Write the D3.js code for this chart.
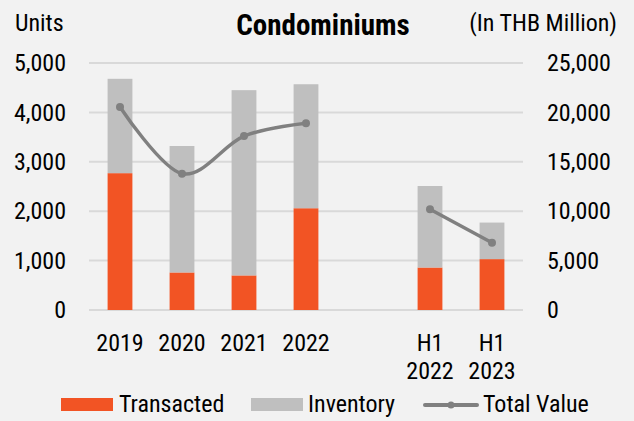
<!DOCTYPE html>
<html>
<head>
<meta charset="utf-8">
<script src="https://cdn.jsdelivr.net/npm/d3@7"></script>
<style>
    body { margin: 0; background: #f2f2f2; }
    svg text { font-family: "Liberation Sans Narrow", "Arial Narrow", "Roboto Condensed", Roboto, sans-serif; fill: #000; }
</style>
</head>
<body>
<div id="chart"></div>
<script>
// data (blank slot = gap between years and halves)
var categories = ["2019", "2020", "2021", "2022", "", "H1 2022", "H1 2023"];
var transacted = [2770, 760, 700, 2060, null, 860, 1030];
var inventory = [1910, 2560, 3750, 2510, null, 1650, 740];
var totalValue = [20550, 13800, 17600, 18900, null, 10200, 6800];
var leftTicks = [0, 1000, 2000, 3000, 4000, 5000];
var rightTicks = [0, 5000, 10000, 15000, 20000, 25000];

var width = 634,
    height = 421,
    margin = { top: 63, right: 111, bottom: 111, left: 89 },
    orange = "#f25424",
    grey = "#bfbfbf",
    lineColor = "#808080",
    fontSize = 24;

var svg = d3.select("#chart").append("svg")
    .attr("width", width)
    .attr("height", height);

svg.append("rect").attr("width", width).attr("height", height).attr("fill", "#f2f2f2");

var innerW = width - margin.left - margin.right,
    innerH = height - margin.top - margin.bottom;

var x = d3.scaleBand().domain(d3.range(categories.length)).range([0, innerW]).paddingInner(0.6).paddingOuter(0.3);
var yL = d3.scaleLinear().domain([0, 5000]).range([innerH, 0]);
var yR = d3.scaleLinear().domain([0, 25000]).range([innerH, 0]);

var g = svg.append("g").attr("transform", "translate(" + margin.left + "," + margin.top + ")");

// gridlines
g.append("g").attr("class", "grid")
    .selectAll("line").data(leftTicks).enter().append("line")
    .attr("x1", 0).attr("x2", innerW)
    .attr("y1", function(d) { return yL(d); })
    .attr("y2", function(d) { return yL(d); })
    .attr("stroke", "#d9d9d9").attr("stroke-width", 2);

// stacked bars
var rows = categories.map(function(c, i) {
    return { i: i, transacted: transacted[i] || 0, inventory: inventory[i] || 0 };
});
var series = d3.stack().keys(["transacted", "inventory"])(rows);
var colors = { transacted: orange, inventory: grey };

g.selectAll(".layer").data(series).enter().append("g")
    .attr("class", "layer")
    .attr("fill", function(d) { return colors[d.key]; })
    .selectAll("rect").data(function(d) { return d.filter(function(p) { return p[1] > p[0]; }); })
    .enter().append("rect")
    .attr("x", function(d) { return x(d.data.i); })
    .attr("width", x.bandwidth())
    .attr("y", function(d) { return yL(d[1]); })
    .attr("height", function(d) { return yL(d[0]) - yL(d[1]); });

// total value line, smoothed like the spreadsheet, broken at the blank slot
var cx = function(i) { return x(i) + x.bandwidth() / 2; };
var line = d3.line()
    .defined(function(d) { return d != null; })
    .x(function(d, i) { return cx(i); })
    .y(function(d) { return yR(d); })
    .curve(d3.curveCardinal.tension(0));

g.append("path").datum(totalValue)
    .attr("d", line)
    .attr("fill", "none")
    .attr("stroke", lineColor)
    .attr("stroke-width", 3.5)
    .attr("stroke-linecap", "round");

g.selectAll(".dot").data(totalValue.map(function(v, i) { return { v: v, i: i }; }).filter(function(d) { return d.v != null; }))
    .enter().append("circle")
    .attr("class", "dot")
    .attr("cx", function(d) { return cx(d.i); })
    .attr("cy", function(d) { return yR(d.v); })
    .attr("r", 4)
    .attr("fill", lineColor);

// axes (text only, spreadsheet style)
var fmt = d3.format(",");
var leftAxis = d3.axisLeft(yL).tickValues(leftTicks).tickFormat(fmt).tickSize(0).tickPadding(23);
var rightAxis = d3.axisRight(yR).tickValues(rightTicks).tickFormat(fmt).tickSize(0).tickPadding(24);

var styleAxis = function(sel) {
    sel.select(".domain").remove();
    sel.selectAll("text").attr("font-size", fontSize).attr("dy", "0.32em");
};
g.append("g").call(leftAxis).call(styleAxis);
g.append("g").attr("transform", "translate(" + innerW + ",0)").call(rightAxis).call(styleAxis);
g.selectAll(".tick text").attr("fill", "#000").attr("font-family", null);

// category labels, two lines for the half-year ones
var xl = g.append("g").selectAll("text").data(categories).enter().append("text")
    .attr("text-anchor", "middle")
    .attr("font-size", fontSize)
    .attr("transform", function(d, i) { return "translate(" + cx(i) + "," + (innerH + 41) + ")"; });
xl.selectAll("tspan").data(function(d) { return d.split(" "); }).enter().append("tspan")
    .attr("x", 0)
    .attr("y", function(d, j) { return j * 28; })
    .text(function(d) { return d; });

// titles
svg.append("text").attr("x", 15).attr("y", 31).attr("font-size", fontSize).text("Units");
svg.append("text").attr("x", 323).attr("y", 35).attr("text-anchor", "middle")
    .attr("font-size", 29).attr("font-weight", "bold").text("Condominiums");
svg.append("text").attr("x", 617).attr("y", 31).attr("text-anchor", "end")
    .attr("font-size", fontSize).text("(In THB Million)");

// legend
var legend = svg.append("g").attr("transform", "translate(0,412)");
legend.append("rect").attr("x", 61).attr("y", -14).attr("width", 52).attr("height", 13).attr("fill", orange);
legend.append("text").attr("x", 119).attr("font-size", fontSize).text("Transacted");
legend.append("rect").attr("x", 251).attr("y", -14).attr("width", 52).attr("height", 13).attr("fill", grey);
legend.append("text").attr("x", 308).attr("font-size", fontSize).text("Inventory");
legend.append("line").attr("x1", 425).attr("x2", 477).attr("y1", -7).attr("y2", -7)
    .attr("stroke", lineColor).attr("stroke-width", 4).attr("stroke-linecap", "round");
legend.append("circle").attr("cx", 451).attr("cy", -7).attr("r", 3.5).attr("fill", lineColor);
legend.append("text").attr("x", 483).attr("font-size", fontSize).text("Total Value");
</script>
</body>
</html>
